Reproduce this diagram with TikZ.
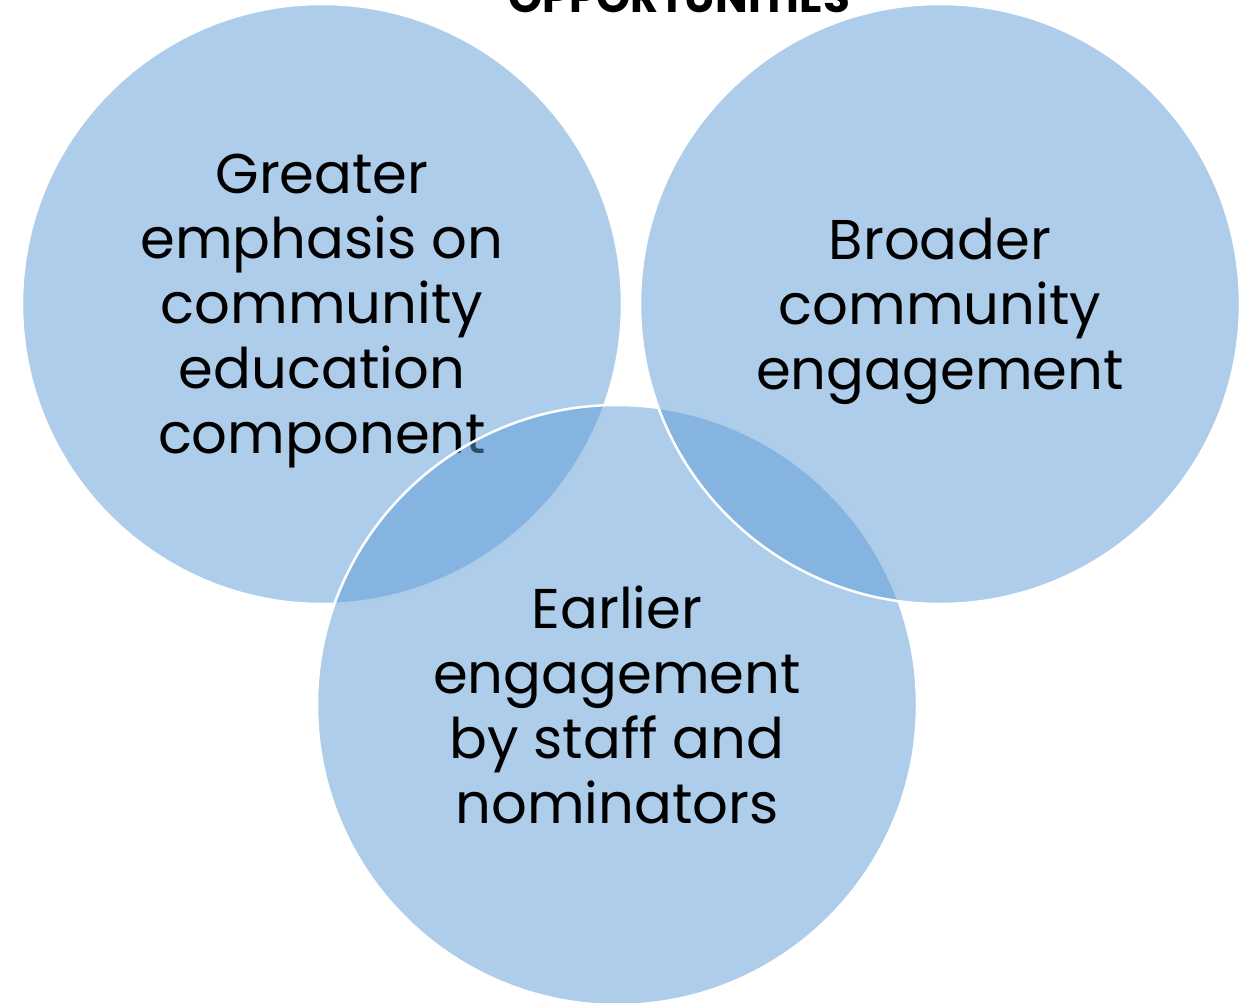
\documentclass[tikz,border=0pt]{standalone}
\usepackage{fontspec}
\setmainfont{Poppins}
\usepackage{tikz}
\usetikzlibrary{positioning}
\definecolor{venn}{HTML}{5B9BD5}

\begin{document}
\begin{tikzpicture}[x=1pt, y=-1pt, font=\fontsize{56}{65}\selectfont,
    bubble/.style={circle, minimum size=600pt, inner sep=0pt, fill=venn, fill opacity=0.5,
        draw=white, line width=2.5pt},
    words/.style={align=center, inner sep=0pt}]
    \useasboundingbox (0,0) rectangle (1247,1003);

    \node[bubble] (edu) at (322,304) {};
    \node[words] (edutext) at (322,311) {Greater\\emphasis on\\community\\education\\component};
    \node[bubble] (early) at (617,705) {};
    \node[words] (earlytext) at (617,705) {Earlier\\engagement\\by staff and\\nominators};
    \node[bubble] (broad) at (940,304) {};
    \node[words] (broadtext) at (940,311) {Broader\\community\\engagement};

    \node[anchor=base, font=\fontsize{43.5}{48}\selectfont\bfseries] (title) at (679,13) {OPPORTUNITIES};
\end{tikzpicture}
\end{document}
